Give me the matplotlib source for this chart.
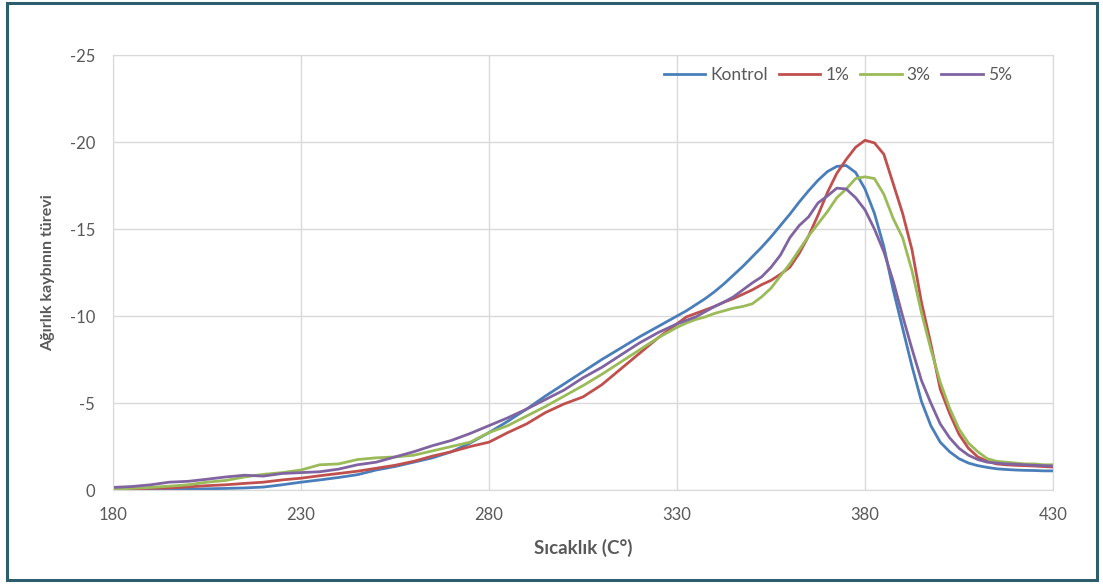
import numpy as np
import matplotlib
matplotlib.use("Agg")
import matplotlib.pyplot as plt
from matplotlib.patches import Rectangle

plt.rcParams['font.family'] = ['Lato', 'DejaVu Sans']
plt.rcParams['axes.unicode_minus'] = False

# sicaklik (C)
T = [180, 185, 190, 195, 200, 205, 210, 215, 220, 225, 230, 235, 240, 245, 250,
     255, 260, 265, 270, 275, 280, 285, 290, 295, 300, 305, 310, 315, 320, 325, 330,
     332.5, 335, 337.5, 340, 342.5, 345, 347.5, 350, 352.5, 355, 357.5, 360, 362.5,
     365, 367.5, 370, 372.5, 375, 377.5, 380, 382.5, 385, 387.5, 390, 392.5, 395,
     397.5, 400, 402.5, 405, 407.5, 410, 412.5, 415, 417.5, 420, 422.5, 425, 427.5, 430]

kontrol = [-0.02, -0.02, -0.03, -0.04, -0.05, -0.07, -0.09, -0.12, -0.17, -0.3, -0.45,
           -0.58, -0.72, -0.88, -1.15, -1.35, -1.6, -1.85, -2.2, -2.7, -3.3, -3.95, -4.65,
           -5.4, -6.1, -6.8, -7.5, -8.15, -8.8, -9.4, -10.0,
           -10.3, -10.65, -11.0, -11.4, -11.85, -12.35, -12.85, -13.4, -13.95, -14.55,
           -15.2, -15.85, -16.55, -17.2, -17.8, -18.3, -18.6, -18.65, -18.25, -17.3,
           -15.9, -14.0, -11.5, -9.3, -7.1, -5.1, -3.7, -2.75, -2.2, -1.8, -1.55, -1.4,
           -1.3, -1.22, -1.18, -1.15, -1.13, -1.12, -1.1, -1.1]

p1 = [-0.05, -0.06, -0.1, -0.12, -0.18, -0.25, -0.3, -0.38, -0.45, -0.58, -0.68,
      -0.82, -0.95, -1.08, -1.25, -1.42, -1.65, -1.95, -2.2, -2.5, -2.75, -3.3, -3.8,
      -4.45, -4.95, -5.35, -6.05, -6.95, -7.85, -8.75, -9.55,
      -9.95, -10.15, -10.35, -10.55, -10.8, -11.0, -11.25, -11.5, -11.8, -12.05,
      -12.4, -12.8, -13.6, -14.6, -15.8, -17.1, -18.2, -19.0, -19.7, -20.1,
      -19.95, -19.3, -17.6, -15.9, -13.8, -10.8, -8.4, -5.8, -4.4, -3.2, -2.4, -1.9,
      -1.65, -1.5, -1.45, -1.42, -1.4, -1.38, -1.35, -1.32]

p3 = [-0.05, -0.1, -0.15, -0.22, -0.3, -0.45, -0.55, -0.75, -0.9, -1.0, -1.15,
      -1.45, -1.5, -1.75, -1.85, -1.9, -2.0, -2.25, -2.5, -2.75, -3.3, -3.7, -4.25,
      -4.8, -5.4, -6.0, -6.65, -7.35, -8.05, -8.75, -9.35,
      -9.6, -9.8, -9.95, -10.15, -10.3, -10.45, -10.55, -10.7, -11.1, -11.6,
      -12.3, -13.0, -13.8, -14.6, -15.3, -16.0, -16.8, -17.3, -17.9, -18.0,
      -17.9, -17.0, -15.6, -14.5, -12.6, -10.2, -8.1, -6.2, -4.7, -3.5, -2.7, -2.2,
      -1.8, -1.65, -1.6, -1.55, -1.5, -1.5, -1.45, -1.45]

p5 = [-0.15, -0.2, -0.3, -0.45, -0.5, -0.62, -0.75, -0.85, -0.8, -0.95, -1.0,
      -1.05, -1.2, -1.45, -1.6, -1.9, -2.2, -2.55, -2.85, -3.25, -3.7, -4.15, -4.65,
      -5.2, -5.75, -6.45, -7.05, -7.75, -8.45, -9.05, -9.55,
      -9.75, -9.95, -10.25, -10.55, -10.8, -11.1, -11.5, -11.9, -12.25, -12.8,
      -13.5, -14.5, -15.2, -15.7, -16.5, -16.9, -17.35, -17.3, -16.8, -16.1,
      -15.0, -13.7, -12.0, -10.0, -8.1, -6.3, -5.0, -3.8, -3.0, -2.4, -2.0, -1.75,
      -1.6, -1.55, -1.5, -1.48, -1.45, -1.42, -1.4, -1.38]

seriler = ['Kontrol', '1%', '3%', '5%']
renkler = ['#4A7EBB', '#C0504D', '#9BBB59', '#8064A2']

fig = plt.figure(figsize=(11.03, 5.86), dpi=100)
ax = fig.add_axes([0.1024, 0.1638, 0.8523, 0.7423])

for ad, y, c in zip(seriler, [kontrol, p1, p3, p5], renkler):
    ax.plot(T, y, color=c, lw=2.0, label=ad)

ax.set_xlim(180, 430)
ax.set_ylim(0, -25)
ax.set_xticks([180, 230, 280, 330, 380, 430])
ax.set_yticks([0, -5, -10, -15, -20, -25])
ax.grid(True, color='#D9D9D9', lw=1)
ax.set_axisbelow(True)
for s in ax.spines.values():
    s.set_color('#D9D9D9')
ax.tick_params(length=0, colors='#595959', labelsize=12)
ax.tick_params(axis='y', pad=13)
ax.tick_params(axis='x', pad=12)

ax.set_xlabel('Sıcaklık (C°)', fontsize=13.5, fontweight='bold', color='#595959', labelpad=12)
ax.set_ylabel('Ağırlık kaybının türevi', fontsize=11.5, fontweight='bold', color='#595959')
ax.yaxis.set_label_coords(-0.062, 0.5)

ax.legend(loc='upper right', ncol=4, frameon=False, fontsize=12.5, handlelength=2.4,
          columnspacing=0.6, handletextpad=0.3, bbox_to_anchor=(0.973, 1.008),
          labelcolor='#595959')

# cerceve
fig.patches.append(Rectangle((7 / 1103, 6 / 586), 1090 / 1103, 577 / 586,
                             transform=fig.transFigure, fill=False,
                             edgecolor='#2E5E6E', lw=2.2))

fig.savefig('out.png', dpi=100)
